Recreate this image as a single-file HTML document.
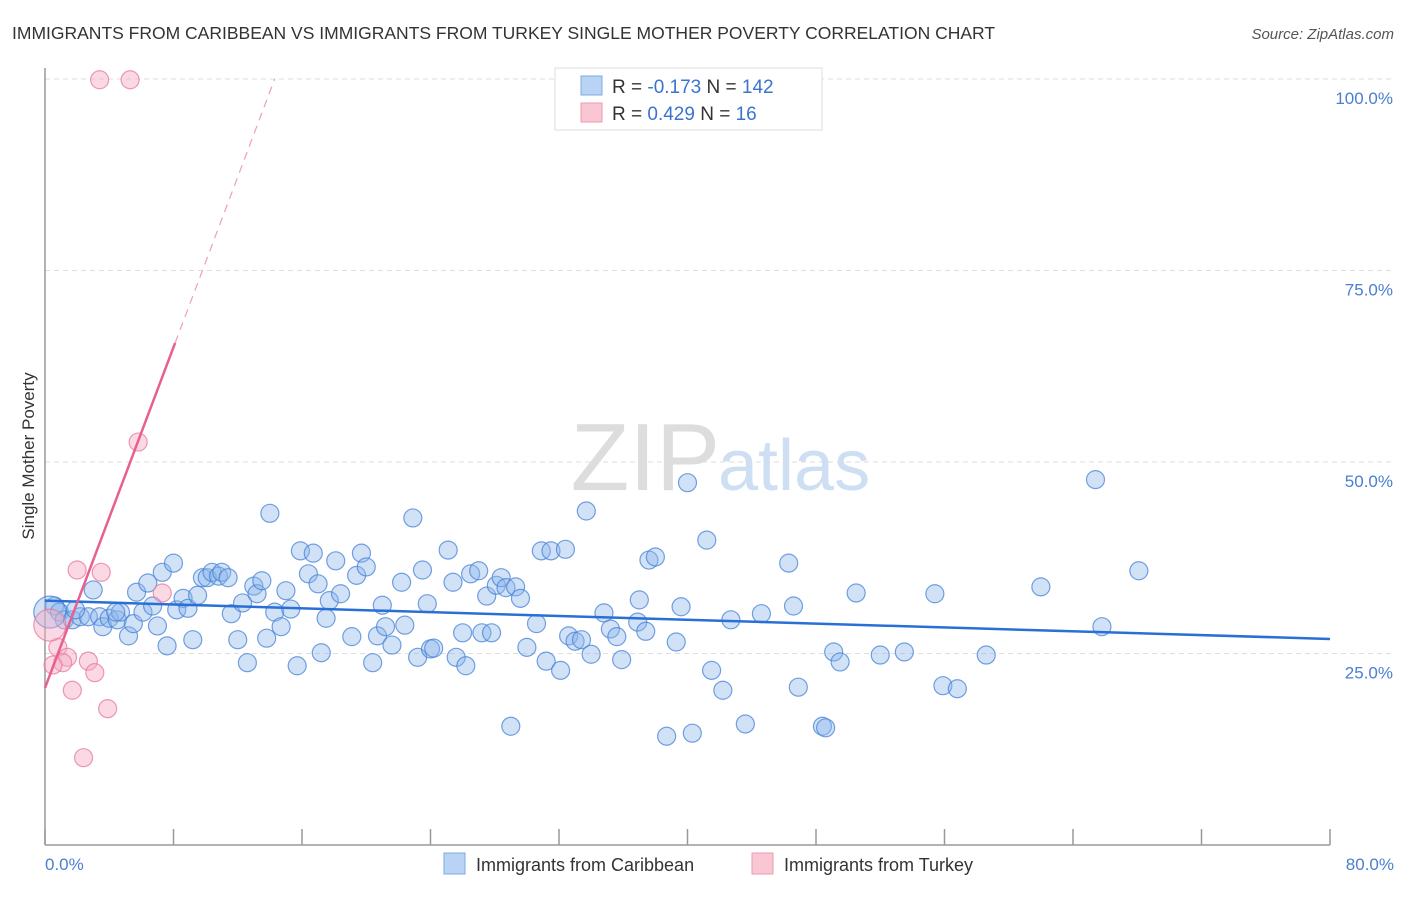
<!DOCTYPE html>
<html><head><meta charset="utf-8">
<style>
body{margin:0;background:#fff;font-family:"Liberation Sans",sans-serif;}
svg text{font-family:"Liberation Sans",sans-serif;}
</style></head>
<body>
<svg width="1406" height="892" viewBox="0 0 1406 892">
<text x="12" y="39" font-size="17.5" fill="#333">IMMIGRANTS FROM CARIBBEAN VS IMMIGRANTS FROM TURKEY SINGLE MOTHER POVERTY CORRELATION CHART</text>
<text x="1394" y="39" font-size="15" fill="#555" font-style="italic" text-anchor="end">Source: ZipAtlas.com</text>
<g id="grid"></g>
<text x="720" y="490" font-size="96" fill="#ddd" font-family="Liberation Serif" text-anchor="end">ZIP</text>
<text x="718" y="490" font-size="72" fill="#cfdff3">atlas</text>
<line x1="45" y1="68" x2="45" y2="845" stroke="#999" stroke-width="1.5"/>
<line x1="45" y1="845" x2="1330" y2="845" stroke="#999" stroke-width="1.5"/>
<g id="xt"></g>
<g id="yl"></g>
<g id="pts"></g>
<g id="trends"></g>
<text transform="translate(34,456) rotate(-90)" font-size="17" fill="#333" text-anchor="middle">Single Mother Poverty</text>
<text x="45" y="870" font-size="17" fill="#4a7fd0">0.0%</text>
<text x="1394" y="870" font-size="17" fill="#4a7fd0" text-anchor="end">80.0%</text>
<g>
<rect x="555" y="68" width="267" height="62" fill="#fff" stroke="#ddd"/>
<rect x="581" y="76" width="21" height="19" fill="#b8d3f3" stroke="#7fa9e3"/>
<rect x="581" y="103" width="21" height="19" fill="#f9c6d4" stroke="#ee9ab2"/>
<text x="612" y="93" font-size="19" fill="#333">R = <tspan fill="#3b73d0">-0.173</tspan>   N = <tspan fill="#3b73d0">142</tspan></text>
<text x="612" y="120" font-size="19" fill="#333">R = <tspan fill="#3b73d0"> 0.429</tspan>   N = <tspan fill="#3b73d0">  16</tspan></text>
</g>
<g>
<rect x="444" y="853" width="21" height="21" fill="#b8d3f3" stroke="#7fa9e3"/>
<text x="476" y="871" font-size="18" fill="#333">Immigrants from Caribbean</text>
<rect x="752" y="853" width="21" height="21" fill="#f9c6d4" stroke="#ee9ab2"/>
<text x="784" y="871" font-size="18" fill="#333">Immigrants from Turkey</text>
</g>
</svg>
<script>
const yTicks=[25,50,75,100];
const yTickLabels=["25.0%","50.0%","75.0%","100.0%"];
const xTicks=[0,8,16,24,32,40,48,56,64,72,80];
const blueX=[0.6,0.9,1.2,1.7,2.2,2.7,3.0,3.4,3.6,4.0,4.5,4.7,5.2,5.5,5.7,6.1,6.4,6.7,7.0,7.3,7.6,8.0,8.2,8.6,8.9,9.2,9.5,9.8,10.1,10.4,10.8,11.0,11.4,11.6,12.0,12.3,12.6,13.0,13.2,13.5,13.8,14.0,14.3,14.7,15.0,15.3,15.7,15.9,16.4,16.7,17.0,17.2,17.5,17.7,18.1,18.4,19.1,19.4,19.7,20.0,20.4,20.7,21.0,21.2,21.6,22.2,22.4,22.9,23.2,23.5,23.8,24.0,24.2,25.1,25.4,25.6,26.0,26.2,26.5,27.0,27.2,27.5,27.8,28.1,28.4,28.7,29.0,29.3,29.6,30.0,30.6,30.9,31.2,31.5,32.1,32.4,32.6,33.0,33.4,33.7,34.0,34.8,35.2,35.6,35.9,36.9,37.0,37.4,37.6,38.0,38.7,39.3,39.6,40.0,40.3,41.2,41.5,42.2,42.7,43.6,44.6,46.3,46.6,46.9,48.4,48.6,49.1,49.5,50.5,52.0,53.5,55.4,55.9,56.8,58.6,62.0,65.4,65.8,68.1,0.3,1.9,4.4];
const blueY=[31.2,30.4,29.4,29.4,29.8,29.8,33.3,29.8,28.5,29.6,29.4,30.4,27.3,28.9,33.0,30.4,34.2,31.2,28.6,35.6,26.0,36.8,30.7,32.2,30.9,26.8,32.6,34.9,34.9,35.6,35.1,35.6,34.9,30.2,26.8,31.6,23.8,33.8,32.8,34.5,27.0,43.3,30.4,28.5,33.2,30.8,23.4,38.4,35.4,38.1,34.1,25.1,29.6,31.9,37.1,32.8,27.2,35.2,38.1,36.3,23.8,27.3,31.3,28.5,26.1,34.3,28.7,42.7,24.5,35.9,31.5,25.6,25.7,38.5,34.3,24.5,27.7,23.4,35.4,35.8,27.7,32.5,27.7,33.9,34.9,33.6,15.5,33.7,32.2,25.8,28.9,38.4,24.0,38.4,22.8,38.6,27.3,26.6,26.8,43.6,24.9,30.3,28.2,27.2,24.2,29.1,32.0,27.9,37.2,37.6,14.2,26.5,31.1,47.3,14.6,39.8,22.8,20.2,29.4,15.8,30.2,36.8,31.2,20.6,15.5,15.3,25.2,23.9,32.9,24.8,25.2,32.8,20.8,20.4,24.8,33.7,47.7,28.5,35.8,30.4,30.7,30.4];
const pinkX=[3.4,5.3,5.8,7.3,2.0,3.5,0.8,0.3,1.4,1.1,0.5,2.7,3.1,1.7,3.9,2.4];
const pinkY=[99.9,99.9,52.6,32.9,35.9,35.6,25.8,28.7,24.5,23.8,23.5,24.0,22.5,20.2,17.8,11.4];
const blueTrend=[31.9,26.9];
const pinkTrend=[20.5,5.56];
const NS="http://www.w3.org/2000/svg";
const sx=v=>45+v/80*1285;
const sy=v=>845-v/100*766;
function mk(tag,attrs,parent){const e=document.createElementNS(NS,tag);for(const k in attrs)e.setAttribute(k,attrs[k]);parent.appendChild(e);return e;}
const grid=document.getElementById('grid'),yl=document.getElementById('yl'),xt=document.getElementById('xt');
yTicks.forEach((t,i)=>{
 const l=mk('line',{x1:45,x2:1395,y1:sy(t),y2:sy(t),stroke:'#ddd','stroke-dasharray':'5,4'},grid);
 
 
 const tx=mk('text',{x:1393,y:sy(t)+25,'font-size':17,fill:'#4a7fd0','text-anchor':'end'},yl);
 tx.textContent=yTickLabels[i];
 
 
});
xTicks.forEach(t=>{
 const l=mk('line',{x1:sx(t),x2:sx(t),y1:829,y2:845,stroke:'#999','stroke-width':1.5},xt);
 
 
});
const pts=document.getElementById('pts');
blueX.forEach((x,i)=>{
 const big=(i===139);
 const c=mk('circle',{cx:sx(x),cy:sy(blueY[i]),r:big?16:9,fill:'rgba(140,182,236,0.4)',stroke:'rgba(70,130,215,0.75)','stroke-width':1.2},pts);
 
 
});
pinkX.forEach((x,i)=>{
 const big=(i===7);
 const c=mk('circle',{cx:sx(x),cy:sy(pinkY[i]),r:big?16:9,fill:'rgba(245,170,195,0.45)',stroke:'rgba(232,120,155,0.75)','stroke-width':1.2},pts);
 
 
});
const tr=document.getElementById('trends');
const bl=mk('line',{x1:sx(0),y1:sy(blueTrend[0]),x2:sx(80),y2:sy(blueTrend[1]),stroke:'#2a6fd6','stroke-width':2.5},tr);


const xs=8.1, xe=(100-pinkTrend[0])/pinkTrend[1];
const pl=mk('line',{x1:sx(0),y1:sy(pinkTrend[0]),x2:sx(xs),y2:sy(pinkTrend[0]+pinkTrend[1]*xs),stroke:'#e8608f','stroke-width':2.5},tr);


const pd=mk('line',{x1:sx(xs),y1:sy(pinkTrend[0]+pinkTrend[1]*xs),x2:sx(xe),y2:sy(100),stroke:'#eca0b8','stroke-width':1.2,'stroke-dasharray':'8,6'},tr);


</script>
</body></html>
